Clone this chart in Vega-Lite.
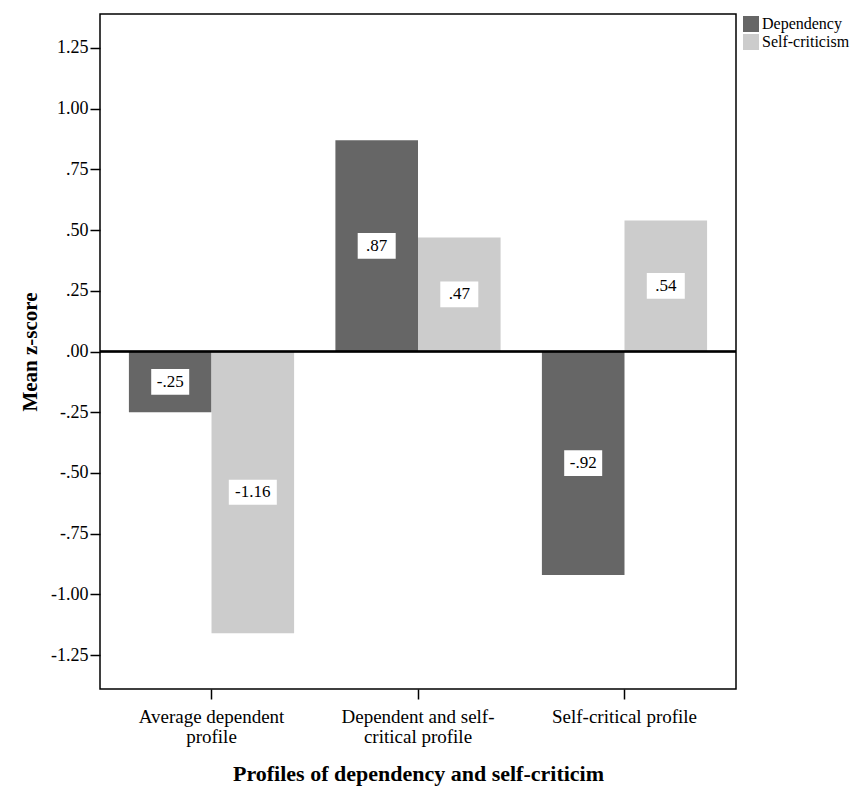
{
  "$schema": "https://vega.github.io/schema/vega-lite/v6.json",
  "width": 636,
  "height": 675,
  "autosize": {"type": "none"},
  "padding": {"left": 100, "top": 14, "right": 126, "bottom": 98},
  "background": "white",
  "config": {
    "view": {"stroke": "black", "strokeWidth": 1.5},
    "font": "Liberation Serif",
    "axis": {
      "labelFont": "Liberation Serif",
      "titleFont": "Liberation Serif",
      "labelColor": "black",
      "titleColor": "black",
      "tickColor": "black",
      "tickWidth": 1.5,
      "tickSize": 10,
      "domain": false,
      "grid": false,
      "titleFontWeight": "bold"
    }
  },
  "data": {
    "values": [
      {"profile": "Average dependent profile", "measure": "Dependency", "z": -0.25},
      {"profile": "Average dependent profile", "measure": "Self-criticism", "z": -1.16},
      {"profile": "Dependent and self-critical profile", "measure": "Dependency", "z": 0.87},
      {"profile": "Dependent and self-critical profile", "measure": "Self-criticism", "z": 0.47},
      {"profile": "Self-critical profile", "measure": "Dependency", "z": -0.92},
      {"profile": "Self-critical profile", "measure": "Self-criticism", "z": 0.54}
    ]
  },
  "transform": [
    {"calculate": "datum.z / 2", "as": "mid"},
    {"calculate": "replace(replace(format(datum.z, '.2f'), '0.', '.'), '\u2212', '-')", "as": "label"}
  ],
  "encoding": {
    "x": {
      "field": "profile",
      "type": "nominal",
      "sort": null,
      "scale": {"paddingInner": 0.2, "paddingOuter": 0.14},
      "title": "Profiles of dependency and self-criticim",
      "axis": {
        "labelAngle": 0,
        "labelFontSize": 19,
        "labelPadding": 8,
        "labelLineHeight": 20,
        "labelExpr": "datum.label == 'Average dependent profile' ? ['Average dependent', 'profile'] : datum.label == 'Dependent and self-critical profile' ? ['Dependent and self-', 'critical profile'] : datum.label",
        "titleFontSize": 22,
        "titlePadding": 17
      }
    },
    "xOffset": {"field": "measure", "type": "nominal", "scale": {"paddingInner": 0, "paddingOuter": 0}}
  },
  "layer": [
    {
      "mark": {"type": "bar"},
      "encoding": {
        "y": {
          "field": "z",
          "type": "quantitative",
          "title": "Mean z-score",
          "scale": {"domain": [-1.39, 1.39], "nice": false, "zero": false},
          "axis": {
            "values": [-1.25, -1, -0.75, -0.5, -0.25, 0, 0.25, 0.5, 0.75, 1, 1.25],
            "labelExpr": "replace(replace(format(datum.value, '.2f'), '0.', '.'), '\u2212', '-')",
            "labelFontSize": 18,
            "labelPadding": 2,
            "titleFontSize": 21,
            "titlePadding": 10
          }
        },
        "color": {
          "field": "measure",
          "type": "nominal",
          "scale": {"domain": ["Dependency", "Self-criticism"], "range": ["#666666", "#cccccc"]},
          "legend": {
            "title": null,
            "orient": "none",
            "legendX": 643,
            "legendY": 2,
            "padding": 0,
            "symbolType": "square",
            "symbolSize": 256,
            "symbolStrokeWidth": 0,
            "symbolOpacity": 1,
            "rowPadding": 2,
            "labelFont": "Liberation Serif",
            "labelFontSize": 16,
            "labelColor": "black",
            "labelOffset": 3
          }
        }
      }
    },
    {
      "mark": {"type": "rule", "color": "black", "strokeWidth": 1.5},
      "encoding": {"y": {"datum": 0}, "x": {"value": 0}, "x2": {"value": 636}, "xOffset": null}
    },
    {
      "mark": {"type": "point", "filled": true, "color": "white", "opacity": 1, "strokeWidth": 0},
      "encoding": {
        "y": {"field": "mid", "type": "quantitative"},
        "shape": {
          "condition": {"test": "length(datum.label) > 4", "value": "M-1,-0.52H1V0.52H-1Z"},
          "value": "M-1,-0.68H1V0.68H-1Z"
        },
        "size": {
          "condition": {"test": "length(datum.label) > 4", "value": 2304},
          "value": 1444
        }
      }
    },
    {
      "mark": {"type": "text", "font": "Liberation Serif", "fontSize": 17, "color": "black", "baseline": "middle", "align": "center"},
      "encoding": {
        "y": {"field": "mid", "type": "quantitative"},
        "text": {"field": "label"}
      }
    }
  ]
}
